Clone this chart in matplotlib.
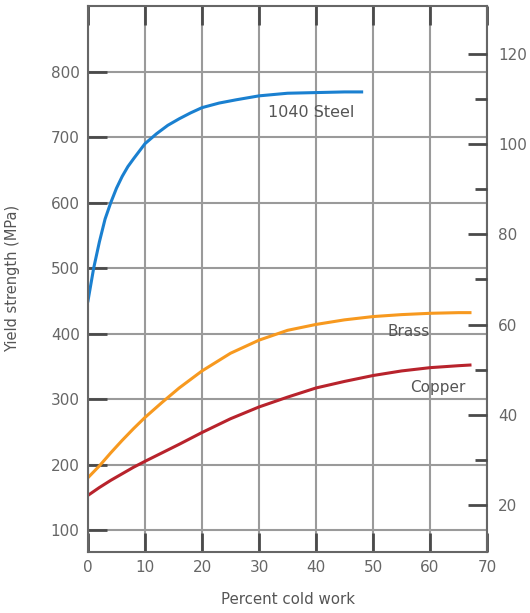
import numpy as np
import matplotlib
matplotlib.use('Agg')
import matplotlib.pyplot as plt

# values
steel_x = [0, 1, 2, 3, 4, 5, 6, 7, 8, 10, 12, 14, 16, 18, 20, 23, 26, 30, 35, 40, 45, 48]
steel_y = [450, 500, 540, 575, 600, 622, 640, 655, 667, 690, 705, 718, 728, 737, 745, 752, 757, 763, 767, 768, 769, 769]
brass_x = [0, 2, 4, 6, 8, 10, 13, 16, 20, 25, 30, 35, 40, 45, 50, 55, 60, 65, 67]
brass_y = [180, 198, 218, 237, 255, 272, 295, 317, 343, 370, 390, 405, 414, 421, 426, 429, 431, 432, 432]
copper_x = [0, 2, 4, 6, 8, 10, 13, 16, 20, 25, 30, 35, 40, 45, 50, 55, 60, 65, 67]
copper_y = [153, 165, 176, 186, 196, 205, 218, 231, 249, 270, 288, 303, 317, 327, 336, 343, 348, 351, 352]

x_ticks = [0, 10, 20, 30, 40, 50, 60, 70]
mpa_ticks = [100, 200, 300, 400, 500, 600, 700, 800]
ksi_major = [20, 40, 60, 80, 100, 120]
ksi_minor = [30, 50, 70, 90, 110]
MPA_PER_KSI = 6.895

txt = '#666666'
dark = '#4a4a4a'

fig = plt.figure(figsize=(5.30, 6.13), dpi=100)
ax = fig.add_axes([0.166, 0.1, 0.753, 0.89])

ax.plot(steel_x, steel_y, color='#1a80d0', lw=2.2)
ax.plot(brass_x, brass_y, color='#f7991f', lw=2.2)
ax.plot(copper_x, copper_y, color='#b8232c', lw=2.2)

ax.set_xlim(0, 70)
ax.set_ylim(67, 900)
ax.set_xticks(x_ticks)
ax.set_yticks(mpa_ticks)
ax.grid(True, color='#9a9a9a', lw=1.5)
ax.set_axisbelow(True)
ax.tick_params(axis='both', direction='in', length=14, width=2, color=dark,
               labelcolor=txt, labelsize=11, top=True, right=False, pad=6)
for s in ax.spines.values():
    s.set_color('#666666')
    s.set_linewidth(1.5)

ax.set_xlabel('Percent cold work', color='#555555', fontsize=10.8, labelpad=12)
ax.set_ylabel('Yield strength (MPa)', color='#555555', fontsize=10.5, labelpad=22)

ax.text(31.5, 738, '1040 Steel', color='#555555', fontsize=11.5, va='center')
ax.text(56.2, 403, 'Brass', color='#555555', fontsize=11, va='center', ha='center')
ax.text(61.3, 318, 'Copper', color='#555555', fontsize=11, va='center', ha='center')

ax2 = ax.twinx()
lo, hi = ax.get_ylim()
ax2.set_ylim(lo / MPA_PER_KSI, hi / MPA_PER_KSI)
ax2.set_yticks(ksi_major)
ax2.set_yticks(ksi_minor, minor=True)
ax2.tick_params(axis='y', which='major', direction='in', length=14, width=2,
                color=dark, labelcolor=txt, labelsize=11, pad=8)
ax2.tick_params(axis='y', which='minor', direction='in', length=9, width=2, color=dark)
for s in ax2.spines.values():
    s.set_visible(False)

fig.savefig('out.png', dpi=100)
